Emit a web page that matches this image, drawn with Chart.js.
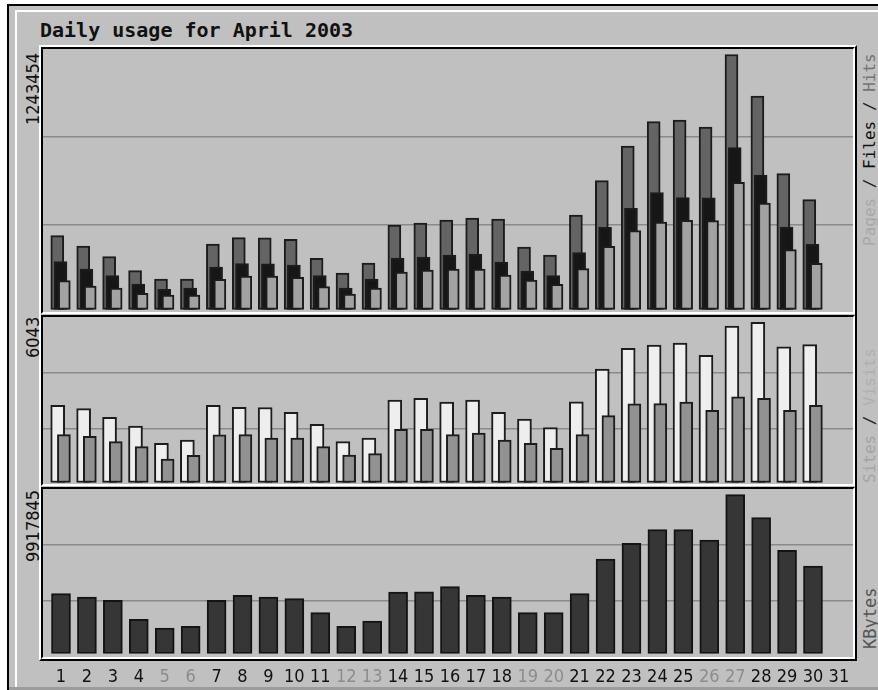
<!DOCTYPE html>
<html><head><meta charset="utf-8">
<script src="https://cdn.jsdelivr.net/npm/chart.js@4.4.1/dist/chart.umd.min.js"></script>
<style>
html,body{margin:0;padding:0;background:#fff;width:878px;height:690px;overflow:hidden;position:relative;}
.abs{position:absolute;box-sizing:border-box;}
#frame{left:7px;top:4px;width:900px;height:700px;border-left:2px solid #000;border-top:2px solid #000;background:#c0c0c0;}
#bevel{left:15px;top:10px;width:900px;height:700px;border-left:2px solid #fff;border-top:2px solid #fff;}
#band{left:9px;top:687px;width:900px;height:3px;background:#9c9c9c;}
#gframe{left:39px;top:45px;width:818px;height:616px;border-top:2px solid #fff;border-left:2px solid #fff;border-right:2px solid #000;border-bottom:2px solid #000;}
.panel{left:41px;width:814px;border-top:2px solid #000;border-left:2px solid #000;border-right:2px solid #fff;border-bottom:2px solid #fff;}
#title{left:40px;top:20px;font:bold 20px "DejaVu Sans Mono",monospace;line-height:20px;color:#111;white-space:nowrap;}
.vlab{position:absolute;writing-mode:vertical-rl;transform:rotate(180deg);white-space:nowrap;text-align:end;line-height:18px;}
.num{font-family:"DejaVu Sans Condensed","Liberation Sans",sans-serif;font-size:18px;color:#111;}
.side{font-family:"DejaVu Sans Mono",monospace;font-size:16px;}
canvas{position:absolute;}
</style></head>
<body>
<div id="frame" class="abs"></div>
<div id="bevel" class="abs"></div>
<div id="band" class="abs"></div>
<div id="title" class="abs">Daily usage for April 2003</div>
<div id="gframe" class="abs"></div>
<div class="abs panel" style="top:47px;height:267px;"></div>
<div class="abs panel" style="top:315px;height:171px;"></div>
<div class="abs panel" style="top:487px;height:172px;"></div>

<div id="lab1" class="vlab num" style="left:24px;top:53px;height:200px;"></div>
<div id="lab2" class="vlab num" style="left:24px;top:317px;height:150px;"></div>
<div id="lab3" class="vlab num" style="left:24px;top:490px;height:150px;"></div>

<div class="vlab side" style="left:861px;top:53px;height:250px;"><span style="color:#a8a8a8">Pages</span><span style="color:#222"> / </span><span style="color:#111">Files</span><span style="color:#222"> / </span><span style="color:#747474">Hits</span></div>
<div class="vlab side" style="left:861px;top:348px;height:160px;"><span style="color:#a4a4a4">Sites</span><span style="color:#222"> / </span><span style="color:#b0b0b0">Visits</span></div>
<div class="vlab side" style="left:861px;top:588px;height:80px;font-size:17px;"><span style="color:#555">KBytes</span></div>

<canvas id="c1" width="810" height="263" style="left:43px;top:49px;"></canvas>
<canvas id="c2" width="810" height="167" style="left:43px;top:317px;"></canvas>
<canvas id="c3" width="810" height="201" style="left:43px;top:489px;"></canvas>

<script>
// ---- data ----
const days = [1,2,3,4,5,6,7,8,9,10,11,12,13,14,15,16,17,18,19,20,21,22,23,24,25,26,27,28,29,30,31];
const weekendDays = [5,6,12,13,19,20,26,27];
const hits   = [359870,309640,257470,189200,148730,148000,319400,350120,350000,342320,249670,178000,226750,412050,421800,436430,446180,441300,304770,265760,460810,628070,797280,915780,924060,889930,1243454,1041090,662200,535420];
const files  = [233090,197490,164820,124350,98500,104840,207240,223330,223000,217000,164820,104840,148730,251130,256000,265760,270640,231620,187740,164820,276970,400830,493480,569550,545170,545000,788990,655860,402300,317940];
const pages  = [140440,114590,104840,79000,70700,70000,147260,163360,163000,157020,111180,75580,104840,182860,192610,197490,197000,168230,143850,122880,198950,308180,384250,426680,434970,434000,620270,519330,291600,225280];
const visits = [2912,2784,2459,2131,1479,1603,2910,2837,2830,2648,2195,1539,1679,3112,3176,3036,3105,2650,2395,2067,3040,4281,5062,5187,5262,4798,5903,6043,5122,5198];
const sites  = [1803,1743,1539,1350,886,1026,1800,1805,1679,1675,1352,1030,1086,2007,2010,1803,1867,1603,1479,1290,1803,2520,2972,2975,3036,2723,3236,3176,2720,2912];
const kbytes = [3734800,3528700,3322600,2136000,1592600,1698800,3320000,3634900,3530000,3422500,2548200,1700000,2029800,3841000,3845000,4172000,3634900,3528700,2548200,2548000,3734800,5902000,6882500,7731900,7735000,7088600,9917845,8481400,6445400,5464800];

document.getElementById('lab1').textContent = String(Math.max(...hits));
document.getElementById('lab2').textContent = String(Math.max(...visits));
document.getElementById('lab3').textContent = String(Math.max(...kbytes));

const X_MIN = 0.306, X_MAX = 31.543;
const NUMFONT = '"DejaVu Sans Condensed", "Liberation Sans", sans-serif';

function xScale(show){
  return {
    type:'linear', min:X_MIN, max:X_MAX, display:show, offset:false,
    grid:{display:false, drawTicks:false, offset:false}, border:{display:false},
    afterBuildTicks: s => { s.ticks = days.map(d => ({value:d})); },
    afterFit: s => { s.height = show ? 33 : 0; s.paddingLeft = 0; s.paddingRight = 0; },
    ticks:{autoSkip:false, maxRotation:0, minRotation:0, padding:10,
      font:{family:NUMFONT, size:18},
      color: c => weekendDays.includes(c.tick && c.tick.value) ? '#8c8c8c' : '#111',
      callback: v => String(v)}
  };
}
function yScale(min, max){
  return {
    type:'linear', min, max, display:true,
    border:{display:false}, ticks:{display:false},
    grid:{color:'#8a8a8a', lineWidth:1.5, drawTicks:false},
    afterBuildTicks: s => { s.ticks = [1,2].map(k => ({value: min + (max-min)*k/3})); },
    afterFit: s => { s.width = 0; }
  };
}
function bars(label, values, off, thick, fill, border, order){
  return {label, data: values.map((v,i) => ({x: days[i] + off, y: v})),
    backgroundColor: fill, borderColor: border, borderWidth: 2, borderSkipped: false,
    barThickness: thick, grouped: false, order};
}
function make(id, datasets, ymin, ymax, showX){
  new Chart(document.getElementById(id), {
    type:'bar',
    data:{datasets},
    options:{
      responsive:false, animation:false, maintainAspectRatio:false,
      layout:{padding:0},
      plugins:{legend:{display:false}, tooltip:{enabled:false}, title:{display:false}},
      scales:{x:xScale(showX), y:yScale(ymin, ymax)}
    }
  });
}

make('c1', [
  bars('Pages', pages, 0.127, 12, '#a2a2a2', '#1c1c1c', 1),
  bars('Files', files, -0.019, 13, '#161616', '#1c1c1c', 2),
  bars('Hits',  hits, -0.143, 13, '#646464', '#1c1c1c', 3)
], -12190, 1270280, false);

make('c2', [
  bars('Sites',  sites, 0.112, 13, '#929292', '#1c1c1c', 1),
  bars('Visits', visits, -0.127, 14, '#eeeeee', '#1c1c1c', 2)
], -57, 6243, false);

make('c3', [
  bars('KBytes', kbytes, 0, 19, '#363636', '#141414', 1)
], -218590, 10273850, true);
</script>
</body></html>
